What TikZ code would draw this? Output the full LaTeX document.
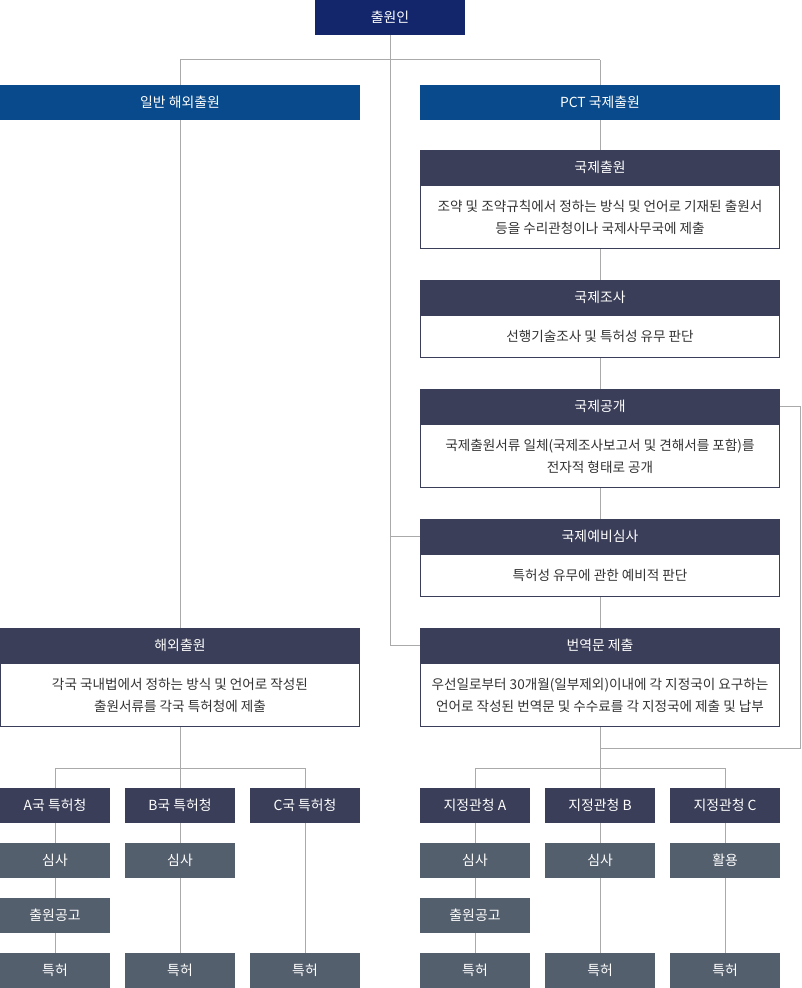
\documentclass[tikz,border=0pt]{standalone}
\usepackage{fontspec}
\setmainfont{Noto Sans CJK KR}
\usetikzlibrary{backgrounds}
\definecolor{navy}{HTML}{13266B}
\definecolor{pblue}{HTML}{084A8B}
\definecolor{hdark}{HTML}{3A3E58}
\definecolor{subg}{HTML}{545F6D}
\definecolor{lineg}{HTML}{AAAAAA}
\definecolor{txt}{HTML}{333333}
\tikzset{
  box/.style={rectangle, inner sep=0pt, outer sep=0pt, text=white, font=\fontsize{10.4}{12}\selectfont, align=center},
  top/.style={box, fill=navy, minimum width=112.5pt, minimum height=26.25pt},
  branch/.style={box, fill=pblue, minimum width=270pt, minimum height=26.25pt},
  hdr/.style={box, fill=hdark, minimum width=270pt, minimum height=26.25pt},
  bodybox/.style={rectangle, inner sep=0pt, outer sep=0pt, draw=hdark, line width=0.75pt, fill=white, text=txt, minimum width=269.25pt, align=center, font=\fontsize{10.2}{16.5}\selectfont},
  office/.style={box, fill=hdark, minimum width=82.5pt, minimum height=26.25pt},
  stage/.style={box, fill=subg, minimum width=82.5pt, minimum height=26.25pt},
  conn/.style={draw=lineg, line width=0.75pt}
}
\begin{document}
\begin{tikzpicture}[x=0.75pt,y=-0.75pt]
\useasboundingbox (0,0) rectangle (801,988);
% top
\node[top] (app) at (390,17.5) {출원인};
\node[branch] (gen) at (180,102.5) {일반 해외출원};
\node[branch] (pct) at (600,102.5) {PCT 국제출원};
% PCT chain
\node[hdr] (h1) at (600,167.5) {국제출원};
\node[bodybox, minimum height=47.25pt] (b1) at (600,217) {조약 및 조약규칙에서 정하는 방식 및 언어로 기재된 출원서\\등을 수리관청이나 국제사무국에 제출};
\node[hdr] (h2) at (600,297.5) {국제조사};
\node[bodybox, minimum height=31.5pt] (b2) at (600,336.5) {선행기술조사 및 특허성 유무 판단};
\node[hdr] (h3) at (600,406.5) {국제공개};
\node[bodybox, minimum height=47.25pt] (b3) at (600,456) {국제출원서류 일체(국제조사보고서 및 견해서를 포함)를\\전자적 형태로 공개};
\node[hdr] (h4) at (600,536.5) {국제예비심사};
\node[bodybox, minimum height=31.5pt] (b4) at (600,575.5) {특허성 유무에 관한 예비적 판단};
\node[hdr] (h5) at (600,645.5) {번역문 제출};
\node[bodybox, minimum height=47.25pt] (b5) at (600,695) {우선일로부터 30개월(일부제외)이내에 각 지정국이 요구하는\\언어로 작성된 번역문 및 수수료를 각 지정국에 제출 및 납부};
% overseas
\node[hdr] (ho) at (180,645.5) {해외출원};
\node[bodybox, minimum height=47.25pt] (bo) at (180,695) {각국 국내법에서 정하는 방식 및 언어로 작성된\\출원서류를 각국 특허청에 제출};
% left bottom
\node[office] (oa) at (55,805.5) {A국 특허청};
\node[office] (ob) at (180,805.5) {B국 특허청};
\node[office] (oc) at (305,805.5) {C국 특허청};
\node[stage] (sa1) at (55,860.5) {심사};
\node[stage] (sa2) at (55,915.5) {출원공고};
\node[stage] (sa3) at (55,970.5) {특허};
\node[stage] (sb1) at (180,860.5) {심사};
\node[stage] (sb3) at (180,970.5) {특허};
\node[stage] (sc3) at (305,970.5) {특허};
% right bottom
\node[office] (da) at (475,805.5) {지정관청 A};
\node[office] (db) at (600,805.5) {지정관청 B};
\node[office] (dc) at (725,805.5) {지정관청 C};
\node[stage] (ta1) at (475,860.5) {심사};
\node[stage] (ta2) at (475,915.5) {출원공고};
\node[stage] (ta3) at (475,970.5) {특허};
\node[stage] (tb1) at (600,860.5) {심사};
\node[stage] (tb3) at (600,970.5) {특허};
\node[stage] (tc1) at (725,860.5) {활용};
\node[stage] (tc3) at (725,970.5) {특허};
% coordinates
\coordinate (jtop) at (390,60);
\coordinate (jl) at (180,60);
\coordinate (jr) at (600,60);
\coordinate (jpre) at (390,536.5);
\coordinate (jtr) at (390,645.5);
\coordinate (lp1) at (800,406.5);
\coordinate (lp2) at (800,748);
\coordinate (lp3) at (600,748);
\coordinate (rsplit) at (600,768);
\coordinate (rsa) at (475,768);
\coordinate (rsc) at (725,768);
\coordinate (lsplit) at (180,768);
\coordinate (lsa) at (55,768);
\coordinate (lsc) at (305,768);
\begin{scope}[on background layer]
\draw[conn] (app.south) -- (jtr) -- (h5.west);
\draw[conn] (jpre) -- (h4.west);
\draw[conn] (jl) -- (jr);
\draw[conn] (jl) -- (gen.north);
\draw[conn] (jr) -- (pct.north);
\draw[conn] (gen.south) -- (ho.north);
\draw[conn] (pct.south) -- (h1.north);
\draw[conn] (b1.south) -- (h2.north);
\draw[conn] (b2.south) -- (h3.north);
\draw[conn] (b3.south) -- (h4.north);
\draw[conn] (b4.south) -- (h5.north);
\draw[conn] (h3.east) -- (lp1) -- (lp2) -- (lp3);
\draw[conn] (b5.south) -- (rsplit);
\draw[conn] (rsa) -- (rsc);
\draw[conn] (rsa) -- (da.north);
\draw[conn] (rsplit) -- (db.north);
\draw[conn] (rsc) -- (dc.north);
\draw[conn] (bo.south) -- (lsplit);
\draw[conn] (lsa) -- (lsc);
\draw[conn] (lsa) -- (oa.north);
\draw[conn] (lsplit) -- (ob.north);
\draw[conn] (lsc) -- (oc.north);
\draw[conn] (oa.south) -- (sa1.north);
\draw[conn] (sa1.south) -- (sa2.north);
\draw[conn] (sa2.south) -- (sa3.north);
\draw[conn] (ob.south) -- (sb1.north);
\draw[conn] (sb1.south) -- (sb3.north);
\draw[conn] (oc.south) -- (sc3.north);
\draw[conn] (da.south) -- (ta1.north);
\draw[conn] (ta1.south) -- (ta2.north);
\draw[conn] (ta2.south) -- (ta3.north);
\draw[conn] (db.south) -- (tb1.north);
\draw[conn] (tb1.south) -- (tb3.north);
\draw[conn] (dc.south) -- (tc1.north);
\draw[conn] (tc1.south) -- (tc3.north);
\end{scope}
\end{tikzpicture}
\end{document}
